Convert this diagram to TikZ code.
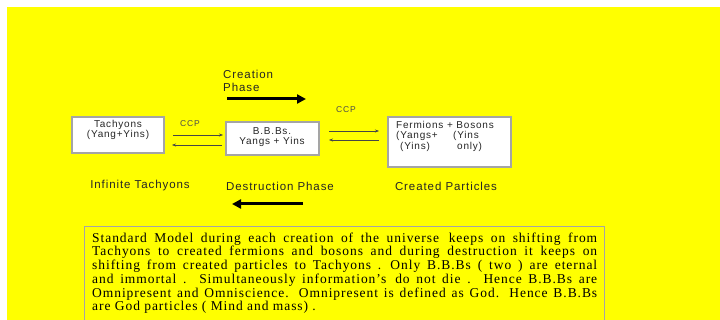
\documentclass[tikz,border=0pt]{standalone}
\usepackage{fontspec}
\setmainfont{Liberation Serif}
\newfontfamily\arialf{Liberation Sans}
\usetikzlibrary{arrows.meta}
\definecolor{bgyellow}{RGB}{255,255,0}
\definecolor{boxgrey}{RGB}{165,165,165}
\definecolor{thinarrow}{RGB}{70,70,70}
\tikzset{
  partbox/.style={draw=boxgrey, line width=1.2pt, fill=white},
  lbl/.style={font=\arialf\addfontfeature{LetterSpace=8}\fontsize{11.5}{13}\selectfont, inner sep=0pt, text=black!85},
  boxtxt/.style={font=\arialf\addfontfeature{LetterSpace=8}\fontsize{10}{10.5}\selectfont, inner sep=0pt, text=black!85, align=center},
  ccp/.style={font=\arialf\addfontfeature{LetterSpace=10}\fontsize{8.5}{9}\selectfont, inner sep=0pt, text=black!70},
  thin/.style={draw=thinarrow, line width=0.5pt, -{Stealth[length=4pt,width=3pt]}},
  thick/.style={draw=black, line width=3pt, -{Triangle[length=9pt,width=9pt]}}
}
\begin{document}
\begin{tikzpicture}[x=1pt,y=-1pt]
\useasboundingbox (0,0) rectangle (720,320);
\fill[white] (0,0) rectangle (720,320);
\fill[bgyellow] (7,7) rectangle (720,320);

% boxes
\draw[partbox] (72,117) rectangle (164,153);
\node[boxtxt] (tach) at (118,130) {Tachyons\\(Yang+Yins)};
\draw[partbox] (226,122) rectangle (319,155);
\node[boxtxt] (bbb) at (272,137) {B.B.Bs.\\Yangs + Yins};
\draw[partbox] (388,117) rectangle (511,167);
\node[boxtxt, anchor=north west, align=left] (ferm) at (396,121) {Fermions + Bosons};
\node[boxtxt, anchor=north west, align=left] (f2) at (396,131.5) {(Yangs+};
\node[boxtxt, anchor=north west, align=left] (f3) at (453,131.5) {(Yins};
\node[boxtxt, anchor=north west, align=left] (f4) at (400,142.5) {(Yins)};
\node[boxtxt, anchor=north west, align=left] (f5) at (457,142.5) {only)};

% thin arrows
\coordinate (a1s) at (173,135); \coordinate (a1e) at (223,135);
\coordinate (a2s) at (222,145); \coordinate (a2e) at (172,145);
\draw[thin] (a1s) -- (a1e);
\draw[thin] (a2s) -- (a2e);
\coordinate (b1s) at (329,131); \coordinate (b1e) at (379,131);
\coordinate (b2s) at (379,140); \coordinate (b2e) at (329,140);
\draw[thin] (b1s) -- (b1e);
\draw[thin] (b2s) -- (b2e);
\node[ccp] (ccp1) at (190,124) {CCP};
\node[ccp] (ccp2) at (346,110) {CCP};

% phase labels and thick arrows
\node[lbl, anchor=west, align=left] (creat) at (223,81) {Creation\\Phase};
\coordinate (t1s) at (227,99); \coordinate (t1e) at (306,99);
\draw[thick] (t1s) -- (t1e);
\coordinate (t2s) at (303,204); \coordinate (t2e) at (232,204);
\draw[thick] (t2s) -- (t2e);

\node[lbl] (inf) at (140,186) {Infinite Tachyons};
\node[lbl] (destr) at (280,186) {Destruction Phase};
\node[lbl] (created) at (446,186) {Created Particles};

% text box
\draw[boxgrey, line width=0.9pt] (84,325) -- (84,226) -- (604,226) -- (604,325);
\node[anchor=north west, inner sep=0pt, text width=505pt, align=justify,
      font=\addfontfeature{LetterSpace=7}\fontsize{13.5}{13.7}\selectfont, text=black] (body) at (92,232.5)
{Standard Model during each creation of the universe\ \,keeps on shifting from\linebreak
Tachyons to created fermions and bosons and during destruction it keeps on\linebreak
shifting from created particles to Tachyons .\ \,Only B.B.Bs ( two ) are eternal\linebreak
and immortal . Simultaneously information's\ \,do not die . Hence B.B.Bs are\linebreak
Omnipresent and Omniscience. Omnipresent is defined as God. Hence B.B.Bs\linebreak
are God particles ( Mind and mass) .};
\end{tikzpicture}
\end{document}
